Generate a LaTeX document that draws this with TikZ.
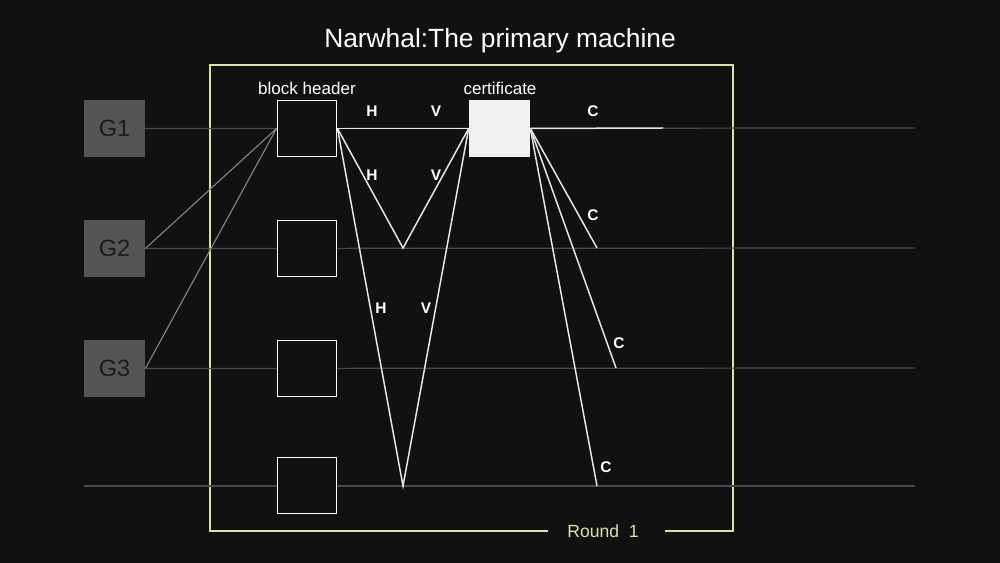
\documentclass[tikz,border=0pt]{standalone}
\usepackage{fontspec}
\setmainfont{Liberation Sans}
\definecolor{bg}{HTML}{111111}
\definecolor{gbox}{HTML}{555555}
\definecolor{gtext}{HTML}{1C1C1C}
\definecolor{gline}{HTML}{4A4A4A}
\definecolor{dline}{HTML}{8A8A8A}
\definecolor{framecol}{HTML}{D8E4A0}
\definecolor{wline}{HTML}{E6E6E6}
\begin{document}
\begin{tikzpicture}[x=0.02cm,y=-0.02cm,
  gbx/.style={fill=gbox, minimum width=1.22cm, minimum height=1.14cm, inner sep=0, text=gtext, font=\fontsize{13.4}{15}\selectfont},
  bhbox/.style={draw=white, line width=1.1pt, fill=bg, minimum width=1.18cm, minimum height=1.12cm, inner sep=0},
  certbox/.style={fill=white!95!black, minimum width=1.22cm, minimum height=1.14cm, inner sep=0},
  grayline/.style={draw=gline, line width=0.7pt},
  diagline/.style={draw=dline, line width=0.6pt},
  whiteline/.style={draw=wline, line width=0.85pt},
  lbl/.style={text=white, font=\fontsize{8.8}{10}\selectfont\bfseries, inner sep=0},
  caplbl/.style={text=white, font=\fontsize{9.7}{11}\selectfont, inner sep=0},
]
\fill[bg] (0,0) rectangle (1000,563);
\useasboundingbox (0,0) rectangle (1000,563);

% title
\node[text=white, font=\fontsize{15}{18}\selectfont, inner sep=0] (title) at (500,41) {Narwhal:The primary machine};

% frame
\coordinate (fa) at (548,531);
\coordinate (fb) at (210,531);
\coordinate (fc) at (210,65);
\coordinate (fd) at (733,65);
\coordinate (fe) at (733,531);
\coordinate (ff) at (665,531);
\draw[framecol, line width=0.9pt] (fa) -- (fb) -- (fc) -- (fd) -- (fe) -- (ff);
\node[text=framecol, font=\fontsize{10}{12}\selectfont, inner sep=0] (round) at (603,531) {Round\ \ 1};

% G boxes
\node[gbx] (g1) at (114.5,128.5) {G1};
\node[gbx] (g2) at (114.5,248.5) {G2};
\node[gbx] (g3) at (114.5,368.5) {G3};

% horizontal gray lines
\coordinate (e1) at (915,128);
\coordinate (e2) at (915,248);
\coordinate (e3) at (915,368);
\coordinate (s4) at (84,486);
\coordinate (e4) at (915,486);
\draw[grayline] (g1.east) -- (e1);
\draw[grayline] (g2.east) -- (e2);
\draw[grayline] (g3.east) -- (e3);
\draw[grayline] (s4) -- (e4);

% block header boxes
\node[bhbox] (b1) at (307,128.5) {};
\node[bhbox] (b2) at (307,248.5) {};
\node[bhbox] (b3) at (307,368.5) {};
\node[bhbox] (b4) at (307,485.5) {};
\node[caplbl] (bhl) at (307,88) {block header};

% certificate
\node[certbox] (cert) at (499.5,128.5) {};
\node[caplbl] (certl) at (500,88) {certificate};

% G to block header
\draw[diagline] (g2.east) -- (b1.west);
\draw[diagline] (g3.east) -- (b1.west);

% H/V paths
\coordinate (v1) at (403,248);
\coordinate (v2) at (403,486);
\draw[whiteline] (b1.east) -- (cert.west);
\draw[whiteline] (b1.east) -- (v1) -- (cert.west);
\draw[whiteline] (b1.east) -- (v2) -- (cert.west);

% C paths
\coordinate (c0) at (663,128);
\coordinate (c1) at (597,248);
\coordinate (c2) at (616,368);
\coordinate (c3) at (597,486);
\draw[whiteline] (cert.east) -- (c0);
\draw[whiteline] (cert.east) -- (c1);
\draw[whiteline] (cert.east) -- (c2);
\draw[whiteline] (cert.east) -- (c3);

% labels
\node[lbl] (h1) at (372,111) {H};
\node[lbl] (vv1) at (436,111) {V};
\node[lbl] (cc0) at (593,111) {C};
\node[lbl] (h2) at (372,175) {H};
\node[lbl] (vv2) at (436,175) {V};
\node[lbl] (cc1) at (593,215) {C};
\node[lbl] (h3) at (381,308) {H};
\node[lbl] (vv3) at (426,308) {V};
\node[lbl] (cc2) at (619,343) {C};
\node[lbl] (cc3) at (606,467) {C};
\end{tikzpicture}
\end{document}
